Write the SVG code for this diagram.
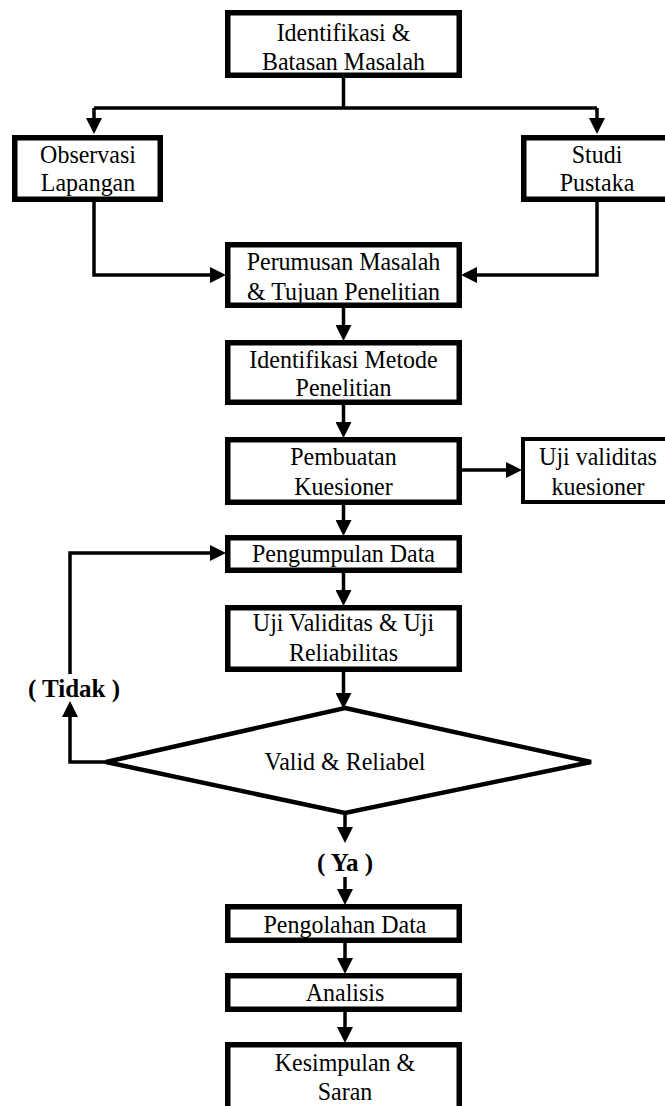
<svg xmlns="http://www.w3.org/2000/svg" width="665" height="1106" viewBox="0 0 665 1106">
<style>
.box{fill:#fff;stroke:#000;stroke-width:5.5}
.thin{fill:#fff;stroke:#000;stroke-width:4}
.dia{fill:#fff;stroke:#000;stroke-width:4.5;stroke-linejoin:miter}
.ln{fill:none;stroke:#000;stroke-width:3.5}
.t{font-family:"Liberation Serif","Times New Roman",serif;font-size:25.5px;text-anchor:middle;fill:#000}
.b{font-family:"Liberation Serif","Times New Roman",serif;font-size:25px;font-weight:bold;text-anchor:middle;fill:#000}
</style>
<defs>
<marker id="ah" markerUnits="userSpaceOnUse" markerWidth="16" markerHeight="16" refX="7" refY="8" orient="auto" viewBox="0 0 16 16">
<path d="M0,0 L16,8 L0,16 z" fill="#000"/>
</marker>
</defs>
<rect width="665" height="1106" fill="#fff"/>
<g id="connectors">
<path class="ln" d="M343.5,78 V108 M94,108 H597"/>
<path class="ln" d="M94,108 V125" marker-end="url(#ah)"/>
<path class="ln" d="M597,108 V125" marker-end="url(#ah)"/>
<path class="ln" d="M94,202 V275 H217" marker-end="url(#ah)"/>
<path class="ln" d="M597,202 V275 H470" marker-end="url(#ah)"/>
<path class="ln" d="M343.5,308 V332" marker-end="url(#ah)"/>
<path class="ln" d="M343.5,405 V429" marker-end="url(#ah)"/>
<path class="ln" d="M462,470 H513" marker-end="url(#ah)"/>
<path class="ln" d="M343.5,505 V527" marker-end="url(#ah)"/>
<path class="ln" d="M343.5,573 V597" marker-end="url(#ah)"/>
<path class="ln" d="M343.5,672 V700" marker-end="url(#ah)"/>
<path class="ln" d="M106,762 H70 V710" marker-end="url(#ah)"/>
<path class="ln" d="M70,674 V553 H217" marker-end="url(#ah)"/>
<path class="ln" d="M345,813 V834" marker-end="url(#ah)"/>
<path class="ln" d="M345,877 V896" marker-end="url(#ah)"/>
<path class="ln" d="M345,943 V965" marker-end="url(#ah)"/>
<path class="ln" d="M345,1012 V1034" marker-end="url(#ah)"/>
</g>
<g id="n-identifikasi">
<rect class="box" x="227.75" y="12.75" width="231.5" height="62.5"/>
<text class="t" transform="matrix(0.94 0 0 1 343.5 0)" x="0" y="41">Identifikasi &amp;</text>
<text class="t" transform="matrix(0.94 0 0 1 343.5 0)" x="0" y="70">Batasan Masalah</text>
</g>
<g id="n-observasi">
<rect class="box" x="14.75" y="137.75" width="145.5" height="61.5"/>
<text class="t" transform="matrix(0.94 0 0 1 88 0)" x="0" y="163">Observasi</text>
<text class="t" transform="matrix(0.94 0 0 1 88 0)" x="0" y="191">Lapangan</text>
</g>
<g id="n-studi">
<rect class="box" x="523.75" y="137.75" width="160" height="61.5"/>
<text class="t" transform="matrix(0.94 0 0 1 597 0)" x="0" y="163">Studi</text>
<text class="t" transform="matrix(0.94 0 0 1 597 0)" x="0" y="191">Pustaka</text>
</g>
<g id="n-perumusan">
<rect class="box" x="227.75" y="244.75" width="231.5" height="60.5"/>
<text class="t" transform="matrix(0.94 0 0 1 343.5 0)" x="0" y="270">Perumusan Masalah</text>
<text class="t" transform="matrix(0.94 0 0 1 343.5 0)" x="0" y="300">&amp; Tujuan Penelitian</text>
</g>
<g id="n-metode">
<rect class="box" x="227.75" y="342.75" width="231.5" height="59.5"/>
<text class="t" transform="matrix(0.94 0 0 1 343.5 0)" x="0" y="368">Identifikasi Metode</text>
<text class="t" transform="matrix(0.94 0 0 1 343.5 0)" x="0" y="396">Penelitian</text>
</g>
<g id="n-pembuatan">
<rect class="box" x="227.75" y="439.75" width="231.5" height="62.5"/>
<text class="t" transform="matrix(0.94 0 0 1 343.5 0)" x="0" y="465">Pembuatan</text>
<text class="t" transform="matrix(0.94 0 0 1 343.5 0)" x="0" y="495">Kuesioner</text>
</g>
<g id="n-ujikuesioner">
<rect class="thin" x="523" y="439" width="160" height="63"/>
<text class="t" transform="matrix(0.94 0 0 1 598 0)" x="0" y="465">Uji validitas</text>
<text class="t" transform="matrix(0.94 0 0 1 598 0)" x="0" y="495">kuesioner</text>
</g>
<g id="n-pengumpulan">
<rect class="box" x="227.75" y="537.75" width="231.5" height="32.5"/>
<text class="t" transform="matrix(0.94 0 0 1 343.5 0)" x="0" y="562">Pengumpulan Data</text>
</g>
<g id="n-ujivaliditas">
<rect class="box" x="227.75" y="607.75" width="231.5" height="61.5"/>
<text class="t" transform="matrix(0.94 0 0 1 343.5 0)" x="0" y="631">Uji Validitas &amp; Uji</text>
<text class="t" transform="matrix(0.94 0 0 1 343.5 0)" x="0" y="661">Reliabilitas</text>
</g>
<g id="n-valid">
<polygon class="dia" points="345,708 591,762 345,813 106,762"/>
<text class="t" transform="matrix(0.94 0 0 1 345 0)" x="0" y="770">Valid &amp; Reliabel</text>
</g>
<g id="l-tidak">
<text class="b" x="74" y="697">( Tidak )</text>
</g>
<g id="l-ya">
<text class="b" x="345" y="871">( Ya )</text>
</g>
<g id="n-pengolahan">
<rect class="box" x="227.75" y="906.75" width="231.5" height="33.5"/>
<text class="t" transform="matrix(0.94 0 0 1 345 0)" x="0" y="933">Pengolahan Data</text>
</g>
<g id="n-analisis">
<rect class="box" x="227.75" y="975.75" width="231.5" height="33.5"/>
<text class="t" transform="matrix(0.94 0 0 1 345 0)" x="0" y="1001">Analisis</text>
</g>
<g id="n-kesimpulan">
<rect class="box" x="227.75" y="1044.75" width="231.5" height="70"/>
<text class="t" transform="matrix(0.94 0 0 1 345 0)" x="0" y="1071">Kesimpulan &amp;</text>
<text class="t" transform="matrix(0.94 0 0 1 345 0)" x="0" y="1100">Saran</text>
</g>
</svg>
